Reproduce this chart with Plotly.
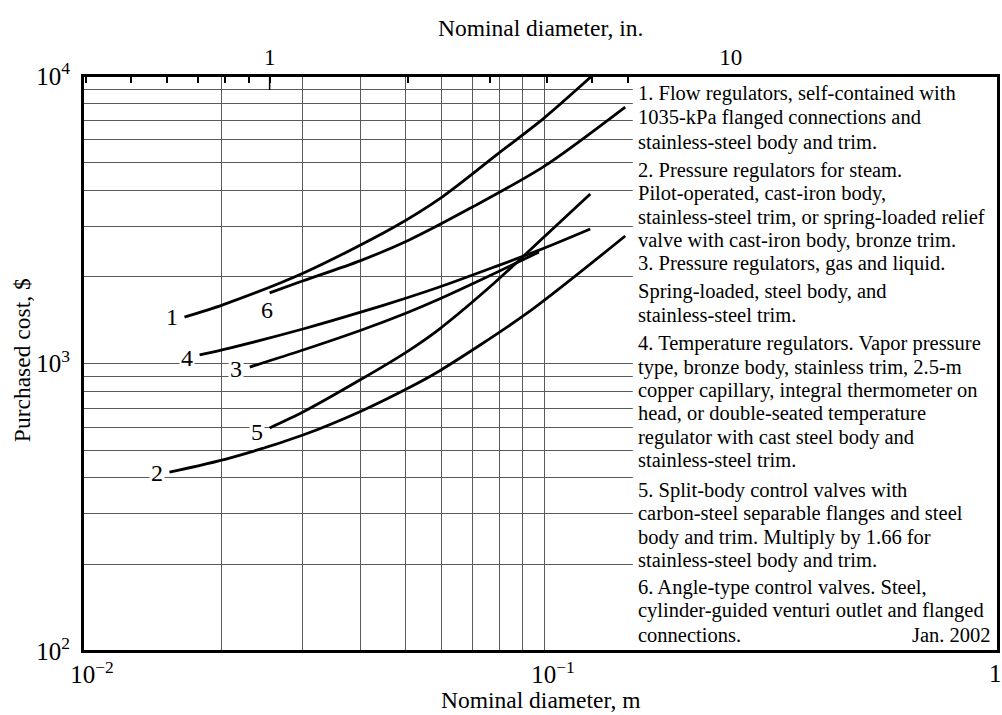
import numpy as np
import plotly.graph_objects as go

# Purchased cost ($, Jan. 2002) versus nominal diameter (m) for six regulator / valve types
diam_1 = [0.0166, 0.0201, 0.0300, 0.0469, 0.0602, 0.0799, 0.100, 0.127]
cost_1 = [1450, 1600, 2060, 2960, 3800, 5400, 7140, 10000]

diam_2 = [0.0154, 0.0208, 0.0300, 0.0402, 0.0503, 0.0593, 0.0914, 0.150]
cost_2 = [419, 469, 564, 684, 815, 942, 1487, 2777]

diam_3 = [0.0230, 0.0300, 0.0402, 0.0503, 0.0593, 0.0760, 0.0975]
cost_3 = [972, 1114, 1308, 1499, 1676, 2015, 2442]

diam_4 = [0.0179, 0.0208, 0.0300, 0.0402, 0.0503, 0.0593, 0.0780, 0.0990, 0.126]
cost_4 = [1071, 1132, 1318, 1511, 1690, 1845, 2166, 2502, 2937]

diam_5 = [0.0254, 0.0300, 0.0402, 0.0503, 0.0593, 0.0780, 0.100, 0.126]
cost_5 = [597, 678, 883, 1096, 1318, 1905, 2754, 3887]

diam_6 = [0.0254, 0.0295, 0.0400, 0.0510, 0.0699, 0.100, 0.150]
cost_6 = [1760, 1920, 2280, 2690, 3500, 4850, 7800]

curve_ids = ["1", "2", "3", "4", "5", "6"]
label_diam = [0.0156, 0.0145, 0.02145, 0.0168, 0.0238, 0.0251]
label_cost = [1451, 416, 957, 1045, 578, 1535]

# Axis tick values
x_ticks_m = [0.01, 0.02, 0.03, 0.04, 0.05, 0.06, 0.07, 0.08, 0.09,
             0.1, 0.2, 0.3, 0.4, 0.5, 0.6, 0.7, 0.8, 0.9]
x_ticklabels_m = {0.01: "10<sup>−2</sup>", 0.1: "10<sup>−1</sup>"}
y_ticks = [100, 200, 300, 400, 500, 600, 700, 800, 900,
           1000, 2000, 3000, 4000, 5000, 6000, 7000, 8000, 9000, 10000]
y_ticklabels = {100: "10<sup>2</sup>", 1000: "10<sup>3</sup>", 10000: "10<sup>4</sup>"}
in_ticks = [0.4, 0.5, 0.6, 0.7, 0.8, 0.9, 1, 2, 3, 4, 5, 6, 7, 8, 9, 10, 20, 30]
in_ticklabels = {1: "1", 10: "10"}

key_lines = [
    "1. Flow regulators, self-contained with",
    "1035-kPa flanged connections and",
    "stainless-steel body and trim.",
    "2. Pressure regulators for steam.",
    "Pilot-operated, cast-iron body,",
    "stainless-steel trim, or spring-loaded relief",
    "valve with cast-iron body, bronze trim.",
    "3. Pressure regulators, gas and liquid.",
    "Spring-loaded, steel body, and",
    "stainless-steel trim.",
    "4. Temperature regulators. Vapor pressure",
    "type, bronze body, stainless trim, 2.5-m",
    "copper capillary, integral thermometer on",
    "head, or double-seated temperature",
    "regulator with cast steel body and",
    "stainless-steel trim.",
    "5. Split-body control valves with",
    "carbon-steel separable flanges and steel",
    "body and trim. Multiply by 1.66 for",
    "stainless-steel body and trim.",
    "6. Angle-type control valves. Steel,",
    "cylinder-guided venturi outlet and flanged",
    "connections.",
]
key_rows_px = [93, 117, 142, 170, 193, 217, 240, 263, 291, 315, 343, 367,
               390, 413, 437, 460, 490, 513, 537, 560, 587, 610, 635]

FONT = "Liberation Serif, Times New Roman, serif"
W, H = 1002, 715
L, R, T, B = 83, 2, 76, 64
PW, PH = W - L - R, H - T - B

x_range = [-2.0, -0.0152]
in_range = [v - np.log10(0.0254) for v in x_range]


def px_to_paper_x(px):
    return (px - L) / PW


def px_to_paper_y(py):
    return (H - B - py) / PH


fig = go.Figure()
for d, c in [(diam_1, cost_1), (diam_2, cost_2), (diam_3, cost_3),
             (diam_4, cost_4), (diam_5, cost_5), (diam_6, cost_6)]:
    fig.add_trace(go.Scatter(
        x=d, y=c, mode="lines",
        line=dict(color="black", width=2.8, shape="spline", smoothing=0.8),
        showlegend=False, hoverinfo="skip"))

# Empty trace that attaches the inch scale along the top edge
fig.add_trace(go.Scatter(x=in_ticks, y=[None] * len(in_ticks), xaxis="x2",
                         mode="lines", showlegend=False, hoverinfo="skip"))

grid_col = "#5a5a5a"
TICK_SIZE = 25
fig.update_layout(
    width=W, height=H,
    margin=dict(l=L, r=R, t=T, b=B, pad=0),
    paper_bgcolor="white", plot_bgcolor="white",
    font=dict(family=FONT, color="black", size=TICK_SIZE),
    xaxis=dict(
        type="log", range=x_range,
        tickmode="array", tickvals=x_ticks_m,
        ticktext=[x_ticklabels_m.get(v, "") for v in x_ticks_m],
        ticks="", showgrid=True, gridcolor=grid_col, gridwidth=1,
        showline=True, linecolor="black", linewidth=2,
        zeroline=False, tickfont=dict(size=TICK_SIZE), ticklabelshift=9,
    ),
    xaxis2=dict(
        type="log", range=in_range, overlaying="x", side="top", anchor="y",
        tickmode="array", tickvals=in_ticks,
        ticktext=[in_ticklabels.get(v, "") for v in in_ticks],
        ticks="inside", ticklen=7, tickwidth=1.5, tickcolor="black",
        showgrid=False, showline=True, linecolor="black", linewidth=2,
        zeroline=False, tickfont=dict(size=23),
    ),
    yaxis=dict(
        type="log", range=[2, 4],
        tickmode="array", tickvals=y_ticks,
        ticktext=[y_ticklabels.get(v, "") for v in y_ticks],
        ticks="", showgrid=True, gridcolor=grid_col, gridwidth=1,
        showline=True, linecolor="black", linewidth=2, mirror=True,
        zeroline=False, tickfont=dict(size=TICK_SIZE), ticklabelstandoff=6,
    ),
)

# White key panel on the right, then the plot frame on top of it
fig.add_shape(type="rect", xref="paper", yref="paper",
              x0=px_to_paper_x(634), x1=1, y0=0, y1=1,
              fillcolor="white", line=dict(width=0), layer="above")
fig.add_shape(type="rect", xref="paper", yref="paper",
              x0=0, x1=1, y0=0, y1=1,
              line=dict(color="black", width=2), layer="above")
# Longer tick at 1 in. on the top scale
fig.add_shape(type="line", xref="x2", yref="paper",
              x0=1, x1=1, y0=1, y1=1 - 14 / PH,
              line=dict(color="black", width=1.5), layer="above")

KEY_SIZE = 20.5
ann = []
for text, row in zip(key_lines, key_rows_px):
    ann.append(dict(x=px_to_paper_x(637), y=px_to_paper_y(row), xref="paper", yref="paper",
                    text=text, showarrow=False, xanchor="left", yanchor="middle",
                    font=dict(size=KEY_SIZE, family=FONT)))
ann.append(dict(x=px_to_paper_x(995), y=px_to_paper_y(635), xref="paper", yref="paper",
                text="Jan. 2002", showarrow=False, xanchor="right", yanchor="middle",
                font=dict(size=KEY_SIZE, family=FONT)))

for cid, lx, ly in zip(curve_ids, label_diam, label_cost):
    ann.append(dict(x=np.log10(lx), y=np.log10(ly), xref="x", yref="y",
                    text=cid, showarrow=False, bgcolor="white", borderpad=1,
                    font=dict(size=24, family=FONT)))

# Right-end tick label of the metre axis
ann.append(dict(x=px_to_paper_x(997), y=px_to_paper_y(673), xref="paper", yref="paper",
                text="1", showarrow=False, xanchor="center", yanchor="middle",
                font=dict(size=TICK_SIZE, family=FONT)))

# Axis titles
TITLE_SIZE = 23.5
ann.append(dict(x=0.5, y=px_to_paper_y(28), xref="paper", yref="paper",
                text="Nominal diameter, in.", showarrow=False,
                xanchor="center", yanchor="middle", font=dict(size=TITLE_SIZE, family=FONT)))
ann.append(dict(x=0.5, y=px_to_paper_y(700), xref="paper", yref="paper",
                text="Nominal diameter, m", showarrow=False,
                xanchor="center", yanchor="middle", font=dict(size=TITLE_SIZE, family=FONT)))
ann.append(dict(x=px_to_paper_x(22), y=px_to_paper_y(360), xref="paper", yref="paper",
                text="Purchased cost, $", showarrow=False, textangle=-90,
                xanchor="center", yanchor="middle", font=dict(size=TITLE_SIZE, family=FONT)))

fig.update_layout(annotations=ann)
fig.write_html("out.html")
